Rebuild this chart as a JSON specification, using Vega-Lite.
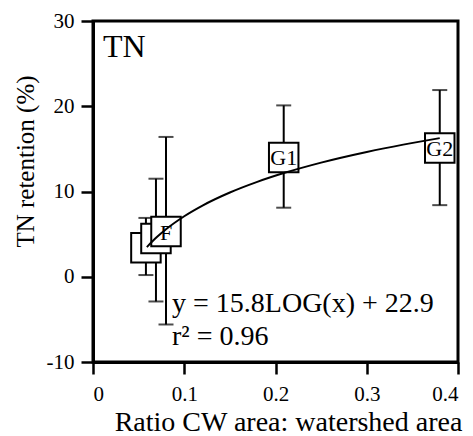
{
  "$schema": "https://vega.github.io/schema/vega-lite/v6.json",
  "width": 365,
  "height": 341,
  "autosize": "none",
  "padding": {"left": 93, "top": 21, "right": 15, "bottom": 74},
  "background": "white",
  "config": {
    "font": "Liberation Serif",
    "view": {"stroke": "black", "strokeWidth": 3},
    "axis": {
      "grid": false,
      "domainColor": "black",
      "domainWidth": 3,
      "tickColor": "black",
      "tickWidth": 2.5,
      "tickSize": 12,
      "labelFont": "Liberation Serif",
      "labelFontSize": 21,
      "labelColor": "black",
      "titleFont": "Liberation Serif",
      "titleFontWeight": "normal",
      "titleColor": "black"
    }
  },
  "datasets": {
    "pts": [
      {"id": "back", "x": 0.058, "y": 3.4, "lo": 0.2, "hi": 6.9, "label": ""},
      {"id": "mid", "x": 0.069, "y": 4.5, "lo": -2.9, "hi": 11.5, "label": ""},
      {"id": "F", "x": 0.080, "y": 5.3, "lo": -5.6, "hi": 16.4, "label": "F"},
      {"id": "G1", "x": 0.209, "y": 14.0, "lo": 8.1, "hi": 20.1, "label": "G1"},
      {"id": "G2", "x": 0.380, "y": 15.1, "lo": 8.4, "hi": 21.9, "label": "G2"}
    ],
    "fit": [
      {"x": 0.059, "y": 3.48},
      {"x": 0.07, "y": 4.65},
      {"x": 0.08, "y": 5.57},
      {"x": 0.1, "y": 7.10},
      {"x": 0.12, "y": 8.35},
      {"x": 0.15, "y": 9.88},
      {"x": 0.18, "y": 11.13},
      {"x": 0.21, "y": 12.19},
      {"x": 0.25, "y": 13.39},
      {"x": 0.3, "y": 14.64},
      {"x": 0.34, "y": 15.50},
      {"x": 0.38, "y": 16.26}
    ],
    "notes": [
      {"x": 0.0866, "y": -4.1, "t": "y = 15.8LOG(x) + 22.9"},
      {"x": 0.0866, "y": -8.0, "t": "r² = 0.96"}
    ],
    "panel": [
      {"x": 0.011, "y": 25.8, "t": "TN"}
    ]
  },
  "layer": [
    {
      "data": {"name": "pts"},
      "mark": {"type": "rule", "color": "black", "strokeWidth": 2},
      "encoding": {
        "x": {"field": "x", "type": "quantitative", "scale": {"domain": [0, 0.4], "nice": false, "zero": false},
          "axis": {"values": [0, 0.1, 0.2, 0.3, 0.4], "labelExpr": "'' + datum.value", "title": "Ratio CW area: watershed area", "titleFontSize": 28, "labelPadding": 9, "titleX": 195, "titleY": 68, "titleAlign": "center", "titleBaseline": "alphabetic"}},
        "y": {"field": "lo", "type": "quantitative", "scale": {"domain": [-10, 30], "nice": false, "zero": false},
          "axis": {"values": [-10, 0, 10, 20, 30], "labelExpr": "'' + datum.value", "title": "TN retention (%)", "titleFontSize": 25, "labelPadding": 7, "titleX": -60, "titleY": 140, "titleAngle": -90, "titleAlign": "center", "titleBaseline": "alphabetic"}},
        "y2": {"field": "hi"}
      }
    },
    {
      "mark": {"type": "rule", "color": "black", "strokeWidth": 2},
      "encoding": {"y": {"datum": 0, "type": "quantitative"}}
    },
    {
      "data": {"name": "pts"},
      "mark": {"type": "tick", "orient": "horizontal", "color": "black", "size": 15, "thickness": 2},
      "encoding": {
        "x": {"field": "x", "type": "quantitative"},
        "y": {"field": "lo", "type": "quantitative"}
      }
    },
    {
      "data": {"name": "pts"},
      "mark": {"type": "tick", "orient": "horizontal", "color": "black", "size": 15, "thickness": 2},
      "encoding": {
        "x": {"field": "x", "type": "quantitative"},
        "y": {"field": "hi", "type": "quantitative"}
      }
    },
    {
      "data": {"name": "pts"},
      "mark": {"type": "point", "shape": "square", "filled": false, "fill": "white", "fillOpacity": 1, "stroke": "black", "strokeWidth": 2, "opacity": 1, "size": 870},
      "encoding": {
        "x": {"field": "x", "type": "quantitative"},
        "y": {"field": "y", "type": "quantitative"}
      }
    },
    {
      "data": {"name": "pts"},
      "mark": {"type": "text", "fontSize": 22, "color": "black", "align": "center", "baseline": "middle", "dy": 1},
      "encoding": {
        "x": {"field": "x", "type": "quantitative"},
        "y": {"field": "y", "type": "quantitative"},
        "text": {"field": "label"}
      }
    },
    {
      "data": {"name": "fit"},
      "mark": {"type": "line", "color": "black", "strokeWidth": 2, "interpolate": "monotone"},
      "encoding": {
        "x": {"field": "x", "type": "quantitative"},
        "y": {"field": "y", "type": "quantitative"}
      }
    },
    {
      "data": {"name": "notes"},
      "mark": {"type": "text", "fontSize": 28, "color": "black", "align": "left", "baseline": "alphabetic"},
      "encoding": {
        "x": {"field": "x", "type": "quantitative"},
        "y": {"field": "y", "type": "quantitative"},
        "text": {"field": "t"}
      }
    },
    {
      "data": {"name": "panel"},
      "mark": {"type": "text", "fontSize": 32, "color": "black", "align": "left", "baseline": "alphabetic"},
      "encoding": {
        "x": {"field": "x", "type": "quantitative"},
        "y": {"field": "y", "type": "quantitative"},
        "text": {"field": "t"}
      }
    }
  ]
}
